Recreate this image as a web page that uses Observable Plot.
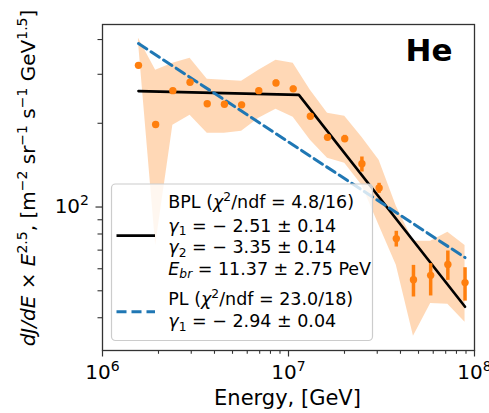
<!DOCTYPE html>
<html><head><meta charset="utf-8">
<script src="https://cdn.jsdelivr.net/npm/d3@7"></script>
<script src="https://cdn.jsdelivr.net/npm/@observablehq/plot@0.6"></script>
<style>body{margin:0;background:#fff} svg{display:block}</style>
</head><body><div id="chart"></div>
<script>
// Measured bins (GeV)
const energy = [1.561e6, 1.931e6, 2.389e6, 2.956e6, 3.657e6, 4.524e6, 5.596e6, 6.923e6, 8.565e6, 1.060e7,
                1.311e7, 1.621e7, 2.006e7, 2.481e7, 3.070e7, 3.798e7, 4.698e7, 5.812e7, 7.190e7, 8.895e7];
const flux   = [323, 198, 262, 281, 235, 234, 233, 262, 279, 266, 212, 178, 176, 143, 117, 77, 54.8, 56.8, 62.2, 53.5];
const errLo  = [317, 194, 257, 275, 231, 230, 228, 257, 272, 260, 208, 174, 171, 133.6, 112, 71.8, 47.5, 47.9, 54.5, 45.9];
const errHi  = [329, 202, 267, 287, 239, 238, 238, 267, 286, 272, 216, 182, 181, 151.3, 121.7, 81.8, 61.7, 62.6, 69.5, 60.5];
const bandLo = [391, 72.8, 196.7, 213.8, 184.1, 184.1, 187.2, 208.5, 224.6, 210.2, 173.8, 149.7, 143.6, 119.7, 85.9, 61.7, 34.3, 45.0, 44.7, 38.5];
const bandHi = [404.5, 310, 328.8, 342.7, 288, 285.6, 283.3, 310, 337, 328.8, 263, 217.3, 212, 178, 147.2, 100.6, 75.3, 75.3, 81.1, 72.8];

// Fit curves
const bplE = [1.561e6, 1.137e7, 8.895e7];
const bplY = [261, 253, 43.8];
const plE  = [1.561e6, 8.895e7];
const plY  = [387, 65.8];

// Ticks (labels written as base^exponent)
const xMajor = [1e6, 1e7, 1e8];
const xMajorLabels = ["10^6", "10^7", "10^8"];
const xMinor = [2e6,3e6,4e6,5e6,6e6,7e6,8e6,9e6,2e7,3e7,4e7,5e7,6e7,7e7,8e7,9e7];
const yMajor = [100];
const yMajorLabels = ["10^2"];
const yMinor = [40,50,60,70,80,90,200,300,400];

const data = energy.map((E, i) => ({E, flux: flux[i], lo: errLo[i], hi: errHi[i], bLo: bandLo[i], bHi: bandHi[i]}));
const bpl = bplE.map((E, i) => ({E, y: bplY[i]}));
const pl = plE.map((E, i) => ({E, y: plY[i]}));

const ORANGE = "#ff7f0e", BLUE = "#1f77b4", AX = "#333";
const xLab = d => xMajorLabels[xMajor.findIndex(v => Math.abs(v - d) / v < 1e-6)];
const yLab = d => yMajorLabels[yMajor.findIndex(v => Math.abs(v - d) / v < 1e-6)];

const chart = Plot.plot({
  width: 489, height: 413,
  marginLeft: 102, marginRight: 15, marginTop: 24, marginBottom: 63,
  x: {type: "log", domain: [1e6, 1e8], label: null},
  y: {type: "log", domain: [30.5, 453], label: null},
  style: {fontFamily: "DejaVu Sans", background: "white", color: AX},
  marks: [
    Plot.areaY(data, {x: "E", y1: "bLo", y2: "bHi", fill: ORANGE, fillOpacity: 0.3, curve: "linear"}),
    Plot.line(bpl, {x: "E", y: "y", stroke: "black", strokeWidth: 2.6}),
    Plot.line(pl, {x: "E", y: "y", stroke: BLUE, strokeWidth: 3, strokeDasharray: "10,5"}),
    Plot.ruleX(data, {x: "E", y1: "lo", y2: "hi", stroke: ORANGE, strokeWidth: 3.5}),
    Plot.dot(data, {x: "E", y: "flux", r: 3.7, fill: ORANGE}),
    Plot.axisX({ticks: xMinor, tickFormat: () => "", tickSize: 3.8, label: null, strokeWidth: 1.1}),
    Plot.axisX({ticks: xMajor, tickFormat: xLab, tickSize: 6.5, tickPadding: 8, fontSize: 20, fill: "black", label: null, strokeWidth: 1.2}),
    Plot.axisY({ticks: yMinor, tickFormat: () => "", tickSize: 4.5, label: null, strokeWidth: 1.1}),
    Plot.axisY({ticks: yMajor, tickFormat: yLab, tickSize: 6.5, tickPadding: 7, fontSize: 20, fill: "black", label: null, strokeWidth: 1.2}),
    Plot.frame({stroke: AX, strokeWidth: 1.3}),
    Plot.text(["He"], {frameAnchor: "top-right", dx: -22, dy: 14, fontSize: 31, fontWeight: "bold", fill: "black"})
  ]
});
document.getElementById("chart").appendChild(chart);

// Rich text helper (superscripts, subscripts, italics)
function rich(sel, segs, fs) {
  let shift = 0;
  segs.forEach(([t, k]) => {
    k = k || "";
    const ts = sel.append("tspan").text(t);
    let target = 0, size = fs;
    if (k.includes("sup")) { target = -0.4 * fs; size = 0.7 * fs; }
    if (k.includes("sub")) { target = 0.22 * fs; size = 0.7 * fs; }
    ts.attr("dy", target - shift).attr("font-size", size);
    if (k.startsWith("i")) ts.attr("font-style", "italic");
    shift = target;
  });
}

const svg = d3.select(chart);
const font = "DejaVu Sans";

// Turn "10^n" tick labels into real superscripts
svg.selectAll("text").each(function () {
  const t = d3.select(this);
  if (t.selectAll("tspan").size() > 0) return;
  const s = t.text();
  const m = /^(\d+)\^(.+)$/.exec(s);
  if (!m) return;
  t.text("");
  rich(t, [[m[1]], [m[2], "sup"]], 20);
});

// Axis titles
const xl = svg.append("text").attr("x", 287.5).attr("y", 405).attr("text-anchor", "middle")
  .attr("font-family", font).attr("font-size", 21).attr("fill", "black");
rich(xl, [["Energy, [GeV]"]], 21);

const yl = svg.append("text").attr("transform", "translate(35,178) rotate(-90)").attr("text-anchor", "middle")
  .attr("font-family", font).attr("font-size", 20).attr("fill", "black");
rich(yl, [["dJ/dE", "i"], [" × "], ["E", "i"], ["2.5", "sup"], [", [m"], ["−2", "sup"], [" sr"], ["−1", "sup"],
          [" s"], ["−1", "sup"], [" GeV"], ["1.5", "sup"], ["]"]], 20);

// Legend
const legendLines = [
  [["BPL ("], ["χ", "i"], ["2", "sup"], ["/ndf = 4.8/16)"]],
  [["γ", "i"], ["1", "sub"], [" = − 2.51 ± 0.14"]],
  [["γ", "i"], ["2", "sub"], [" = − 3.35 ± 0.14"]],
  [["E", "i"], ["br", "isub"], [" = 11.37 ± 2.75 PeV"]],
  [["PL ("], ["χ", "i"], ["2", "sup"], ["/ndf = 23.0/18)"]],
  [["γ", "i"], ["1", "sub"], [" = − 2.94 ± 0.04"]]
];
const legendBase = [208, 231.5, 253, 274.5, 305, 327];
const lg = svg.append("g");
lg.append("rect").attr("x", 111.5).attr("y", 184).attr("width", 261).attr("height", 156.5).attr("rx", 4)
  .attr("fill", "white").attr("fill-opacity", 0.8).attr("stroke", "#cccccc").attr("stroke-width", 1.2);
lg.append("line").attr("x1", 116.5).attr("x2", 155).attr("y1", 235.7).attr("y2", 235.7)
  .attr("stroke", "black").attr("stroke-width", 2.8);
lg.append("line").attr("x1", 116.5).attr("x2", 155).attr("y1", 311.7).attr("y2", 311.7)
  .attr("stroke", BLUE).attr("stroke-width", 3).attr("stroke-dasharray", "10,5");
legendLines.forEach((segs, i) => {
  const t = lg.append("text").attr("x", 168.3).attr("y", legendBase[i]).attr("text-anchor", "start")
    .attr("font-family", font).attr("font-size", 17.5).attr("fill", "black");
  rich(t, segs, 17.5);
});
</script>
</body></html>
